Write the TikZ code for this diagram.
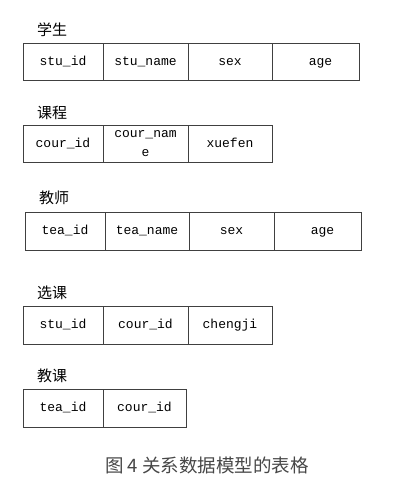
\documentclass[tikz,border=0pt]{standalone}
\usepackage{fontspec}
\setmonofont{Liberation Mono}
\newfontfamily\cjk{Noto Sans CJK SC}
\usetikzlibrary{positioning}
\tikzstyle{cell} = [rectangle, draw=black!75, line width=0.9pt, outer sep=0pt, inner sep=0pt, minimum height=37pt, text height=9.5pt, text depth=2.5pt, text centered, anchor=north west, font=\fontsize{13}{19}\selectfont\ttfamily]
\tikzstyle{tname} = [anchor=west, inner sep=0pt, font=\fontsize{15}{15}\selectfont\cjk]
\tikzstyle{caption} = [inner sep=0pt, text=black!72, font=\fontsize{18.5}{18.5}\selectfont\cjk]

\begin{document}
\begin{tikzpicture}[x=1pt, y=-1pt]
	\useasboundingbox (0,0) rectangle (418,488);
	% 学生
	\node (tstu) [tname] at (37,30) {学生};
	\node (stuid) [cell, minimum width=80pt] at (23,43) {stu\_id};
	\node (stuname) [cell, minimum width=85pt, right=0pt of stuid] {stu\_name};
	\node (stusex) [cell, minimum width=84pt, right=0pt of stuname] {sex};
	\node (stuage) [cell, minimum width=87pt, right=0pt of stusex] {\hspace{10pt}age};
	% 课程
	\node (tcour) [tname] at (37,113) {课程};
	\node (courid) [cell, minimum width=80pt] at (23,125) {cour\_id};
	\node (courname) [cell, minimum width=85pt, right=0pt of courid, align=center, text height=, text depth=] {cour\_nam\\e};
	\node (xuefen) [cell, minimum width=84pt, right=0pt of courname] {xuefen};
	% 教师
	\node (ttea) [tname] at (39,198) {教师};
	\node (teaid) [cell, minimum width=80pt, minimum height=38pt] at (25,212) {tea\_id};
	\node (teaname) [cell, minimum width=84pt, minimum height=38pt, right=0pt of teaid] {tea\_name};
	\node (teasex) [cell, minimum width=85pt, minimum height=38pt, right=0pt of teaname] {sex};
	\node (teaage) [cell, minimum width=87pt, minimum height=38pt, right=0pt of teasex] {\hspace{10pt}age};
	% 选课
	\node (txk) [tname] at (37,293) {选课};
	\node (xkstu) [cell, minimum width=80pt, minimum height=38pt] at (23,306) {stu\_id};
	\node (xkcour) [cell, minimum width=85pt, minimum height=38pt, right=0pt of xkstu] {cour\_id};
	\node (chengji) [cell, minimum width=84pt, minimum height=38pt, right=0pt of xkcour] {chengji};
	% 教课
	\node (tjk) [tname] at (37,376) {教课};
	\node (jktea) [cell, minimum width=80pt, minimum height=38pt] at (23,389) {tea\_id};
	\node (jkcour) [cell, minimum width=83pt, minimum height=38pt, right=0pt of jktea] {cour\_id};
	\node (cap) [caption] at (207,465) {图 4 关系数据模型的表格};
\end{tikzpicture}
\end{document}
